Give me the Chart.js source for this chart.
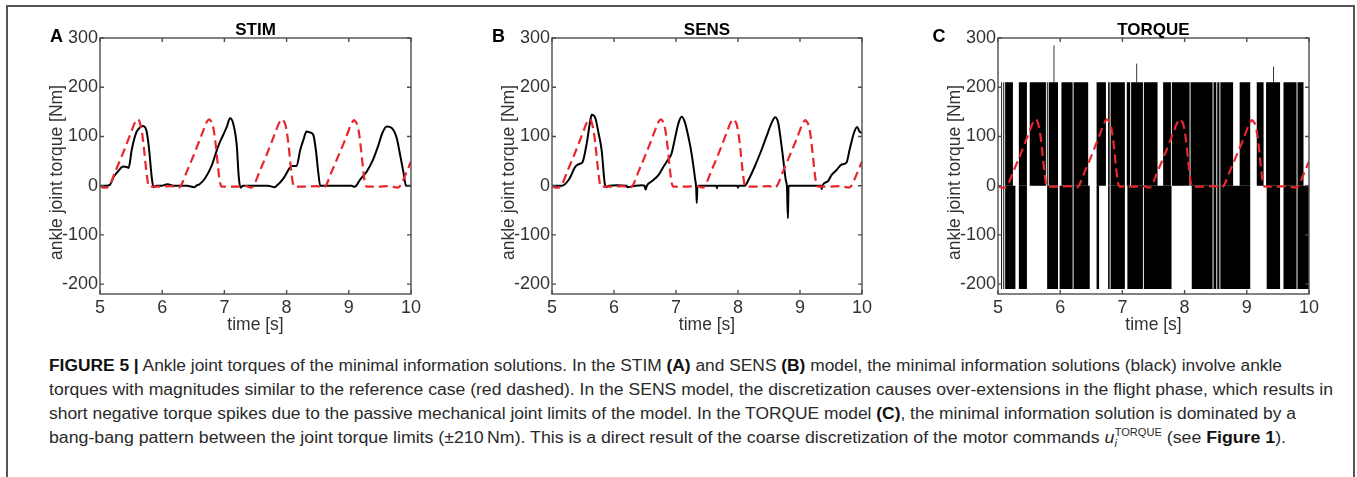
<!DOCTYPE html>
<html><head><meta charset="utf-8">
<script src="https://cdn.jsdelivr.net/npm/chart.js@4"></script>
<style>
html,body{margin:0;padding:0;}
body{width:1357px;height:477px;overflow:hidden;background:#fff;font-family:"Liberation Sans",Arial,Helvetica,sans-serif;position:relative;}
.panel{position:absolute;top:0;}
#frame{position:absolute;left:6px;top:5px;width:1349px;height:520px;border:2px solid #555;box-sizing:border-box;}
.cap{position:absolute;left:49px;white-space:nowrap;font-size:16px;line-height:20px;color:#2a2a2a;transform-origin:0 0;}
.cap b{font-weight:bold;color:#111;}
.sx{position:relative;font-size:10px;}
</style></head><body>
<div id="frame"></div>
<div class="panel" id="pA"><canvas id="cA"></canvas></div>
<div class="panel" id="pB"><canvas id="cB"></canvas></div>
<div class="panel" id="pC"><canvas id="cC"></canvas></div>
<div class="cap" id="l1"><b>FIGURE 5 |</b> Ankle joint torques of the minimal information solutions. In the STIM <b>(A)</b> and SENS <b>(B)</b> model, the minimal information solutions (black) involve ankle</div>
<div class="cap" id="l2">torques with magnitudes similar to the reference case (red dashed). In the SENS model, the discretization causes over-extensions in the flight phase, which results in</div>
<div class="cap" id="l3">short negative torque spikes due to the passive mechanical joint limits of the model. In the TORQUE model <b>(C)</b>, the minimal information solution is dominated by a</div>
<div class="cap" id="l4">bang-bang pattern between the joint torque limits (±210&#8201;Nm). This is a direct result of the coarse discretization of the motor commands <i>u</i><span class="sx" style="top:4px;"><i>i</i></span><span class="sx" style="top:-7px;margin-left:-2px;">TORQUE</span> (see <b>Figure 1</b>).</div>
<script>
// ---------- data ----------
const xTicks = [5, 6, 7, 8, 9, 10];
const yTicks = [-200, -100, 0, 100, 200, 300];
const panelTitles = ['STIM', 'SENS', 'TORQUE'];
const panelLetters = ['A', 'B', 'C'];
const xTitle = 'time [s]';
const yTitle = 'ankle joint torque [Nm]';

// reference case (red dashed), same in all panels
const refTime = [5.00,5.05,5.10,
  5.15,5.25,5.35,5.45,5.51,5.55,5.58,5.605,5.63,5.65,5.68,5.71,5.74,5.77,5.79,
  5.95,6.15,6.26,
  6.30,6.40,6.50,6.60,6.66,6.70,6.73,6.755,6.78,6.81,6.84,6.87,6.90,6.93,6.96,
  7.15,7.35,7.43,
  7.47,7.57,7.67,7.77,7.83,7.87,7.90,7.925,7.95,7.98,8.01,8.04,8.07,8.10,8.13,
  8.30,8.50,8.59,
  8.63,8.73,8.83,8.93,8.99,9.03,9.06,9.085,9.11,9.14,9.17,9.20,9.23,9.26,9.29,
  9.45,9.65,9.79,
  9.83,9.92,10.00];
const refTorque = [0,-4,-4,
  0,30,60,92,112,125,132,135,132,124,104,72,35,6,-2,
  -2,-1,-4,
  0,30,60,92,112,125,132,135,132,124,104,72,35,6,-2,
  -2,-1,-4,
  0,30,60,92,112,125,132,135,132,124,104,72,35,6,-2,
  -2,-1,-4,
  0,30,60,90,110,123,130,133,130,122,102,70,34,6,-2,
  -2,-1,-4,
  0,25,49];

// STIM minimal information solution (black)
const stimTime = [5.00,5.10,5.16,5.22,5.29,5.37,5.43,5.46,5.51,5.55,5.59,5.64,5.69,5.75,5.79,5.83,5.86,5.90,
  6.00,6.08,6.12,6.20,6.40,6.52,6.55,6.60,6.69,6.79,6.90,6.98,7.04,7.09,7.14,7.20,7.23,7.26,7.30,
  7.50,7.70,7.80,7.84,7.95,8.05,8.09,8.16,8.22,8.27,8.32,8.38,8.43,8.47,8.51,8.54,
  8.70,8.90,9.05,9.08,9.12,9.18,9.29,9.39,9.47,9.54,9.61,9.69,9.77,9.82,9.88,9.92,10.00];
const stimTorque = [0,0,2,18,29,39,38,36,73,95,110,118,121,110,73,19,-3,0,
  0,3,2,0,0,-3,0,3,15,39,80,103,120,137,127,80,19,-4,0,
  0,0,-3,0,15,36,40,40,73,93,110,108,103,73,26,0,
  0,0,0,-2,0,12,29,53,80,107,120,117,97,66,26,0,0];

// SENS minimal information solution (black)
const sensTime = [5.00,5.10,5.16,5.27,5.38,5.46,5.49,5.56,5.62,5.64,5.70,5.75,5.80,5.85,5.87,5.92,
  6.05,6.20,6.22,6.35,6.45,6.49,6.51,6.53,6.61,6.72,6.80,6.88,6.93,6.99,7.04,7.09,7.14,7.21,7.25,7.31,
  7.325,7.335,7.345,7.36,7.50,7.65,7.66,7.67,7.80,7.99,8.00,8.01,8.11,8.17,8.27,8.38,8.46,8.54,8.60,
  8.65,8.69,8.73,8.77,8.79,8.805,8.815,8.825,8.84,9.00,9.20,9.34,9.35,9.36,9.45,9.51,9.59,9.67,9.75,
  9.80,9.87,9.92,9.96,10.00];
const sensTorque = [0,0,0,12,39,45,47,86,134,144,137,107,73,5,-3,0,
  1,0,-3,0,1,0,-8,0,9,22,39,54,66,100,127,140,130,93,66,12,
  -3,-35,-3,0,0,0,-5,0,0,0,-4,0,0,12,39,73,100,127,139,
  127,93,53,12,-3,-66,-3,0,0,0,0,0,-7,0,9,22,32,43,47,
  73,107,119,110,107];

// TORQUE minimal information solution: bang-bang between the torque limits
const torqueLimit = 210;
const torqueUpperOn = [[5.050,5.065],[5.085,5.100],[5.115,5.240],[5.335,5.465],[5.510,5.770],[5.785,5.800],
  [5.815,5.965],[6.020,6.200],[6.215,6.450],[6.585,6.735],[6.770,6.795],[6.810,7.040],[7.070,7.125],
  [7.140,7.330],[7.345,7.565],[7.655,7.780],[7.795,8.080],[8.095,8.450],[8.465,8.510],[8.525,8.560],
  [8.575,8.780],[8.885,9.055],[9.160,9.270],[9.310,9.535],[9.590,9.800],[9.815,9.915]];
const torqueLowerOn = [[5.050,5.065],[5.085,5.100],[5.115,5.280],[5.335,5.465],[5.790,5.965],[5.990,6.200],
  [6.215,6.475],[6.585,6.625],[6.770,6.795],[6.810,7.040],[7.080,7.330],[7.345,7.790],[8.115,8.450],
  [8.465,8.510],[8.525,8.560],[8.575,9.055],[9.320,9.535],[9.590,9.800],[9.815,10.000]];
const spikeTime = [5.90, 7.23, 9.43];
const spikePeak = [285, 248, 242];

// ---------- layout ----------
const plotTop = 38, plotBottom = 294, containerH = 345, yAxisW = 100, padRight = 30;
const panels = [
  {id:'A', plotLeft:100, plotRight:411, letterDx:-50},
  {id:'B', plotLeft:552, plotRight:862, letterDx:-60},
  {id:'C', plotLeft:998, plotRight:1309, letterDx:-65.5}
];
const FONT = '"Liberation Sans", Arial, Helvetica, sans-serif';
const RED = '#e8262d';

const pts = (ts, vs) => ts.map((t, i) => ({x: t, y: vs[i]}));
function bangPoints(intervals, level) {
  const out = [];
  for (const [a, b] of intervals) { out.push({x:a,y:0},{x:a,y:level},{x:b,y:level},{x:b,y:0}); }
  return out;
}
function spikePoints() {
  const out = [];
  spikeTime.forEach((t, i) => { out.push({x:t,y:torqueLimit},{x:t,y:spikePeak[i]},{x:t,y:null}); });
  return out;
}

const deco = {
  id: 'deco',
  afterDraw(chart, args, o) {
    const {ctx, chartArea} = chart;
    const {left, right, top, bottom} = chartArea;
    const xs = chart.scales.x, ys = chart.scales.y;
    ctx.save();
    ctx.strokeStyle = '#4d4d4d';
    ctx.lineWidth = 1.4;
    ctx.strokeRect(left, top, right - left, bottom - top);
    ctx.beginPath();
    xTicks.forEach(v => { const p = xs.getPixelForValue(v);
      ctx.moveTo(p, bottom); ctx.lineTo(p, bottom - 4); ctx.moveTo(p, top); ctx.lineTo(p, top + 4); });
    yTicks.forEach(v => { const p = ys.getPixelForValue(v);
      ctx.moveTo(left, p); ctx.lineTo(left + 4, p); ctx.moveTo(right, p); ctx.lineTo(right - 4, p); });
    ctx.stroke();
    // panel title
    ctx.fillStyle = '#000';
    ctx.textBaseline = 'alphabetic';
    ctx.textAlign = 'center';
    ctx.font = 'bold 17px ' + FONT;
    ctx.fillText(o.title, (left + right) / 2, 35);
    // panel letter
    ctx.textAlign = 'left';
    ctx.font = 'bold 18px ' + FONT;
    ctx.fillText(o.letter, left + o.letterDx, 42);
    // axis titles
    ctx.fillStyle = '#333';
    ctx.font = '17.5px ' + FONT;
    ctx.textAlign = 'center';
    ctx.fillText(xTitle, (left + right) / 2, 330);
    ctx.translate(left - 38.5, 172.5);
    ctx.rotate(-Math.PI / 2);
    ctx.fillText(yTitle, 0, 0);
    ctx.restore();
  }
};

function makeChart(idx, datasets) {
  const P = panels[idx];
  const cLeft = P.plotLeft - yAxisW;
  const cW = P.plotRight + padRight - cLeft;
  const div = document.getElementById('p' + P.id);
  div.style.left = cLeft + 'px';
  div.style.width = cW + 'px';
  div.style.height = containerH + 'px';
  const cv = document.getElementById('c' + P.id);
  cv.width = cW; cv.height = containerH;
  cv.style.width = cW + 'px'; cv.style.height = containerH + 'px';
  return new Chart(cv, {
    type: 'line',
    data: {datasets},
    options: {
      responsive: false, animation: false, devicePixelRatio: 1,
      layout: {padding: {top: plotTop, right: padRight, left: 0, bottom: 0}},
      elements: {point: {radius: 0, hoverRadius: 0}},
      plugins: {legend: {display: false}, tooltip: {enabled: false}, title: {display: false},
        deco: {title: panelTitles[idx], letter: panelLetters[idx], letterDx: P.letterDx}},
      events: [],
      scales: {
        x: {type: 'linear', min: 5, max: 10,
          afterBuildTicks: s => { s.ticks = xTicks.map(v => ({value: v})); },
          afterFit: s => { s.height = containerH - plotBottom; },
          grid: {display: false, drawTicks: false}, border: {display: false},
          ticks: {font: {size: 18, family: FONT}, color: '#333', padding: 3, maxRotation: 0, autoSkip: false}},
        y: {type: 'linear', min: -220, max: 300,
          afterBuildTicks: s => { s.ticks = yTicks.map(v => ({value: v})); },
          afterFit: s => { s.width = yAxisW; },
          grid: {display: false, drawTicks: false}, border: {display: false},
          ticks: {font: {size: 18, family: FONT}, color: '#333', padding: 2, autoSkip: false}}
      }
    },
    plugins: [deco]
  });
}

const refDS = () => ({data: pts(refTime, refTorque), borderColor: RED, borderWidth: 2.2, borderDash: [9, 5],
  borderCapStyle: 'butt', cubicInterpolationMode: 'monotone', tension: 0.4, fill: false});
const blackDS = (ts, vs) => ({data: pts(ts, vs), borderColor: '#000', borderWidth: 2,
  borderJoinStyle: 'round', cubicInterpolationMode: 'monotone', tension: 0.4, fill: false});

makeChart(0, [refDS(), blackDS(stimTime, stimTorque)]);
makeChart(1, [refDS(), blackDS(sensTime, sensTorque)]);
makeChart(2, [
  refDS(),
  {data: spikePoints(), borderColor: '#333', borderWidth: 1, spanGaps: false, tension: 0, fill: false},
  {data: bangPoints(torqueUpperOn, torqueLimit), borderColor: 'rgba(0,0,0,0)', borderWidth: 1, tension: 0,
    backgroundColor: '#000', fill: 'origin'},
  {data: bangPoints(torqueLowerOn, -torqueLimit), borderColor: 'rgba(0,0,0,0)', borderWidth: 1, tension: 0,
    backgroundColor: '#000', fill: 'origin'}
]);

// caption lines
const capBaselines = [371, 395, 419, 443];
const capRight = [1282, 1333, 1296, 1286];
['l1','l2','l3','l4'].forEach((id, i) => {
  const el = document.getElementById(id);
  el.style.top = (capBaselines[i] - 15.5) + 'px';
  const w = el.getBoundingClientRect().width;
  el.style.transform = 'scaleX(' + ((capRight[i] - 49) / w) + ')';
});
</script>
</body></html>
